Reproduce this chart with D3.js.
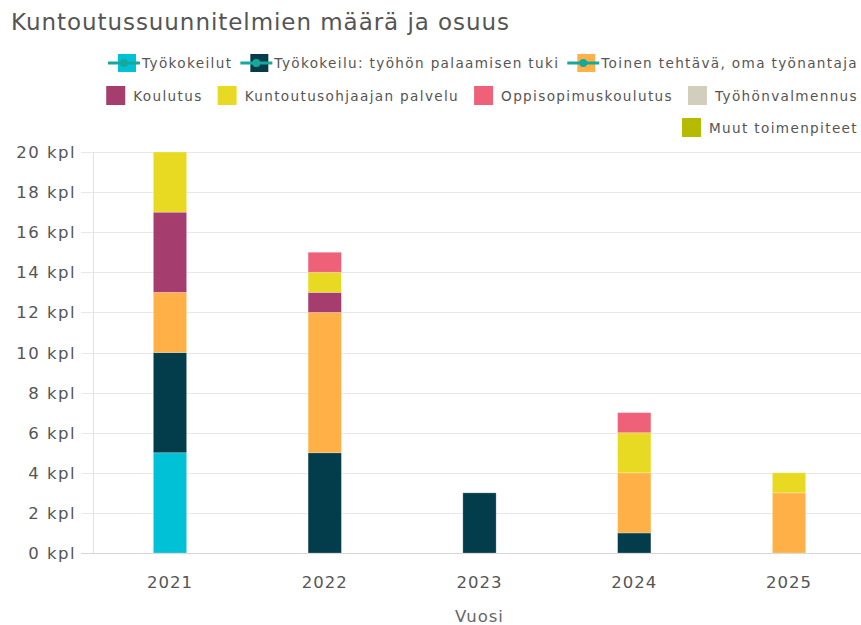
<!DOCTYPE html>
<html>
<head>
<meta charset="utf-8">
<script src="https://cdn.jsdelivr.net/npm/d3@7"></script>
<style>
    body { margin: 0; background: #fff; }
    svg text { font-family: "DejaVu Sans", Verdana, sans-serif; }
</style>
</head>
<body>
<div id="chart"></div>
<script>
// vuodet ja sarjat
var years = ['2021', '2022', '2023', '2024', '2025'];
var seriesNames = [
    'Työkokeilut',
    'Työkokeilu: työhön palaamisen tuki',
    'Toinen tehtävä, oma työnantaja',
    'Koulutus',
    'Kuntoutusohjaajan palvelu',
    'Oppisopimuskoulutus',
    'Työhönvalmennus',
    'Muut toimenpiteet'
];
var seriesColors = ['#00c1d5', '#033d4b', '#ffb148', '#a63d6f', '#e8d923', '#ef6179', '#d3cdbc', '#b5bc00'];
var lineSeries = [true, true, true, false, false, false, false, false];

// arvot vuosittain (sarja x vuosi)
var tyokokeilut = [5, 0, 0, 0, 0];
var tyohonPalaaminen = [5, 5, 3, 1, 0];
var toinenTehtava = [3, 7, 0, 3, 3];
var koulutus = [4, 1, 0, 0, 0];
var kuntoutusohjaaja = [3, 1, 0, 2, 1];
var oppisopimus = [0, 1, 0, 1, 0];
var tyohonvalmennus = [0, 0, 0, 0, 0];
var muut = [0, 0, 0, 0, 0];
var values = [tyokokeilut, tyohonPalaaminen, toinenTehtava, koulutus, kuntoutusohjaaja, oppisopimus, tyohonvalmennus, muut];

var yTicks = [0, 2, 4, 6, 8, 10, 12, 14, 16, 18, 20];
var title = 'Kuntoutussuunnitelmien määrä ja osuus';
var xTitle = 'Vuosi';

var width = 861;
var height = 625;
var plot = { left: 93, right: 866, top: 152, bottom: 553 };

var svg = d3.select('#chart')
    .append('svg')
    .attr('width', width)
    .attr('height', height);

// otsikko
svg.append('text')
    .attr('x', 11)
    .attr('y', 30)
    .attr('font-size', '23px')
    .attr('fill', '#555')
    .attr('letter-spacing', '0.95px')
    .text(title);

var xScale = d3.scaleBand()
    .domain(years)
    .range([plot.left, plot.right])
    .paddingInner(0.785)
    .paddingOuter(0.39);
var yScale = d3.scaleLinear()
    .domain([0, 20])
    .range([plot.bottom, plot.top]);

// ruudukko
svg.append('g')
    .selectAll('line')
    .data(yTicks)
    .enter()
    .append('line')
    .attr('x1', 81)
    .attr('x2', plot.right)
    .attr('y1', function (d) { return Math.round(yScale(d)) + 0.5; })
    .attr('y2', function (d) { return Math.round(yScale(d)) + 0.5; })
    .attr('stroke', function (d) { return d === 0 ? '#d6d6d6' : '#e8e8e8'; })
    .attr('stroke-width', 1.2);

svg.append('line')
    .attr('x1', plot.left + 0.5)
    .attr('x2', plot.left + 0.5)
    .attr('y1', plot.top)
    .attr('y2', plot.bottom)
    .attr('stroke', '#e3e3e3')
    .attr('stroke-width', 1.2);

// y-akselin tekstit
svg.append('g')
    .selectAll('text')
    .data(yTicks)
    .enter()
    .append('text')
    .attr('x', 76)
    .attr('y', function (d) { return yScale(d) + 6; })
    .attr('text-anchor', 'end')
    .attr('font-size', '16.5px')
    .attr('letter-spacing', '1.5px')
    .attr('fill', '#555')
    .text(function (d) { return d + ' kpl'; });

// x-akselin tekstit
svg.append('g')
    .selectAll('text')
    .data(years)
    .enter()
    .append('text')
    .attr('x', function (d) { return xScale(d) + xScale.bandwidth() / 2; })
    .attr('y', 588)
    .attr('text-anchor', 'middle')
    .attr('font-size', '16.5px')
    .attr('letter-spacing', '1px')
    .attr('fill', '#555')
    .text(function (d) { return d; });

svg.append('text')
    .attr('x', (plot.left + plot.right) / 2)
    .attr('y', 622)
    .attr('text-anchor', 'middle')
    .attr('font-size', '16.5px')
    .attr('letter-spacing', '1px')
    .attr('fill', '#666')
    .text(xTitle);

// pinotut pylväät
var table = years.map(function (y, i) {
    var row = { year: y };
    seriesNames.forEach(function (s, k) { row[s] = values[k][i]; });
    return row;
});
var stack = d3.stack().keys(seriesNames)(table);

svg.append('g')
    .selectAll('g')
    .data(stack)
    .enter()
    .append('g')
    .attr('fill', function (d, k) { return seriesColors[k]; })
    .selectAll('rect')
    .data(function (d) { return d.filter(function (p) { return p[1] > p[0]; }); })
    .enter()
    .append('rect')
    .attr('x', function (p) { return xScale(p.data.year); })
    .attr('width', xScale.bandwidth())
    .attr('y', function (p) { return yScale(p[1]); })
    .attr('height', function (p) { return yScale(p[0]) - yScale(p[1]); })
    .attr('stroke', '#fff')
    .attr('stroke-opacity', 0.3)
    .attr('stroke-width', 0.8);

// selite
var legendRows = [[0, 1, 2], [3, 4, 5, 6], [7]];
var legendY = [63, 96, 128];
var legendRight = 858;

legendRows.forEach(function (row, r) {
    var g = svg.append('g');
    var items = row.map(function (k) {
        var ig = g.append('g');
        var isLine = lineSeries[k];
        var symW = isLine ? 32 : 20;
        var gap = isLine ? 2 : 7;
        var t = ig.append('text')
            .attr('x', symW + gap)
            .attr('y', 5)
            .attr('font-size', '13.6px')
            .attr('letter-spacing', '1.35px')
            .attr('fill', '#555')
            .text(seriesNames[k]);
        if (isLine) {
            ig.append('rect')
                .attr('x', 10).attr('y', -9).attr('width', 18).attr('height', 18)
                .attr('fill', seriesColors[k]);
            ig.append('line')
                .attr('x1', 0).attr('x2', symW).attr('y1', 0).attr('y2', 0)
                .attr('stroke', '#17a89c').attr('stroke-width', 3);
            ig.append('circle')
                .attr('cx', 16).attr('cy', 0).attr('r', 4)
                .attr('fill', '#17a89c');
        } else {
            ig.append('rect')
                .attr('x', 0).attr('y', -10).attr('width', 19).attr('height', 19)
                .attr('fill', seriesColors[k]);
        }
        var w = symW + gap + t.node().getComputedTextLength();
        return { g: ig, w: w, isLine: isLine };
    });
    var spacing = row.some(function (k) { return lineSeries[k]; }) ? 8 : 15;
    var total = d3.sum(items, function (d) { return d.w; }) + spacing * (items.length - 1);
    var x = legendRight - total;
    items.forEach(function (it) {
        it.g.attr('transform', 'translate(' + x + ',' + legendY[r] + ')');
        x += it.w + spacing;
    });
});
</script>
</body>
</html>
